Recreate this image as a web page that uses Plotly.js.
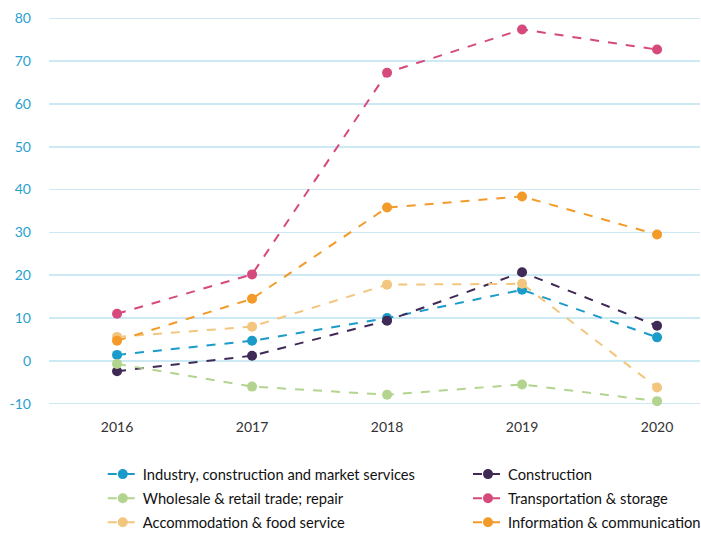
<!DOCTYPE html>
<html><head><meta charset="utf-8">
<script src="https://cdn.plot.ly/plotly-3.0.1.min.js"></script>
<style>html,body{margin:0;padding:0;background:#fff}#chart{width:701px;height:533px}</style>
</head><body><div id="chart"></div>
<script>
const years = [2016, 2017, 2018, 2019, 2020];
const seriesNames = [
  "Industry, construction and market services",
  "Construction",
  "Wholesale & retail trade; repair",
  "Transportation & storage",
  "Accommodation & food service",
  "Information & communication"
];
const industry = [1.4, 4.7, 10.0, 16.6, 5.5];
const construction = [-2.4, 1.2, 9.4, 20.7, 8.2];
const wholesale = [-0.7, -6.0, -7.9, -5.5, -9.4];
const transport = [11.0, 20.2, 67.3, 77.4, 72.7];
const accommodation = [5.6, 8.0, 17.8, 18.0, -6.2];
const information = [4.7, 14.5, 35.8, 38.4, 29.5];
const colors = ["#1a9bc9", "#3f2a56", "#b3d48e", "#d6497c", "#f2c67e", "#f39a29"];
const values = [industry, construction, wholesale, transport, accommodation, information];
const yTicks = [-10, 0, 10, 20, 30, 40, 50, 60, 70, 80];

const traces = values.map((v, i) => ({
  x: years, y: v, name: seriesNames[i], type: 'scatter', mode: 'lines+markers',
  line: {color: colors[i], dash: 'dash', width: 2},
  marker: {color: colors[i], size: 10},
  legend: i % 2 === 0 ? 'legend' : 'legend2',
  legendgroup: 'g' + i
}));
const legendFont = {family: 'Lato, "Open Sans", sans-serif', size: 14.7, color: '#111'};
const layout = {
  width: 701, height: 533,
  margin: {l: 49, r: 1, t: 14, b: 125, autoexpand: false},
  paper_bgcolor: '#fff', plot_bgcolor: '#fff',
  font: {family: 'Lato, "Open Sans", sans-serif', size: 13, color: '#222'},
  showlegend: true,
  xaxis: {
    range: [2015.496, 2020.318], tickvals: years, ticktext: years.map(String),
    showgrid: false, zeroline: false, showline: false,
    tickfont: {size: 14, color: '#333'}, ticks: 'outside', ticklen: 6, tickcolor: 'rgba(0,0,0,0)'
  },
  yaxis: {
    range: [-11, 81], tickvals: yTicks, ticktext: yTicks.map(String),
    showgrid: true, gridcolor: '#cde9f3', gridwidth: 1.5, zeroline: false, showline: false,
    tickfont: {size: 14, color: '#2a9fd0'}, ticklabelstandoff: 17
  },
  legend: {
    orientation: 'v', x: 0.0826, xanchor: 'left', y: -0.127, yanchor: 'top',
    traceorder: 'grouped', tracegroupgap: 2, font: legendFont, itemclick: false
  },
  legend2: {
    orientation: 'v', x: 0.6436, xanchor: 'left', y: -0.127, yanchor: 'top',
    traceorder: 'grouped', tracegroupgap: 2, font: legendFont, itemclick: false
  }
};
Plotly.newPlot('chart', traces, layout, {displayModeBar: false, staticPlot: true});
</script></body></html>
